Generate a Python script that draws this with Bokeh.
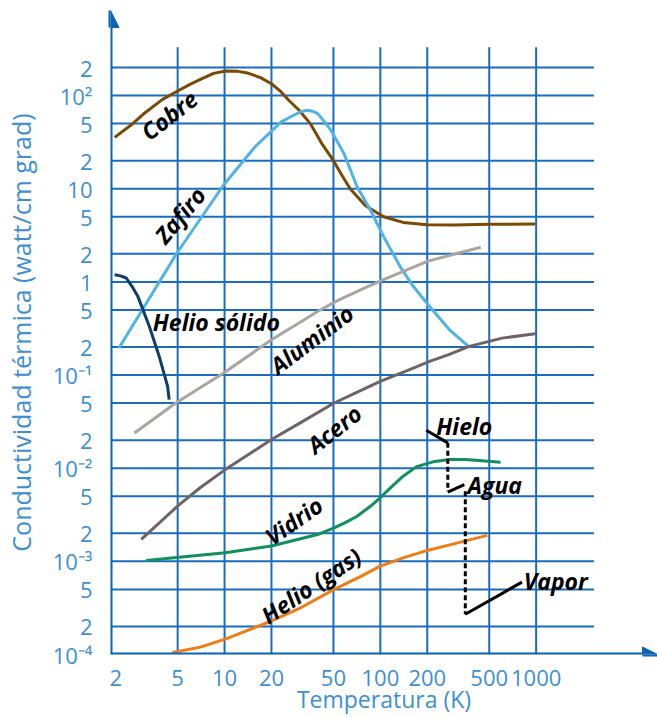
import math
from bokeh.plotting import figure
from bokeh.models import Range1d, FixedTicker, Arrow, NormalHead
from bokeh.core.properties import value
from bokeh.embed import file_html
from bokeh.resources import INLINE

FONT = "Open Sans"
TXT_BLUE = "#3d8fd3"
GRID = "#1a6cbc"
AXIS = "#0b63b2"

# ---- axes ----
x_ticks = [2, 5, 10, 20, 50, 100, 200, 500, 1000]
x_tick_labels = ["2", "5", "10", "20", "50", "100", "200", "500", "1000"]
y_ticks = [1e-4, 2e-4, 5e-4, 1e-3, 2e-3, 5e-3, 1e-2, 2e-2, 5e-2, 0.1, 0.2, 0.5,
           1, 2, 5, 10, 20, 50, 100, 200]
y_tick_labels = ["10⁻⁴", "2", "5", "10⁻³", "2", "5", "10⁻²", "2", "5", "10⁻¹", "2", "5",
                 "1", "2", "5", "10", "2", "5", "10²", "2"]
grid_x = [5, 10, 20, 50, 100, 200, 500, 1000]
grid_y = [2e-4, 5e-4, 1e-3, 2e-3, 5e-3, 1e-2, 2e-2, 5e-2, 0.1, 0.2, 0.5,
          1, 2, 5, 10, 20, 50, 100, 200]

# ---- series (T in K, conductivity in W/cm·K) ----
cobre_T = [1.97, 2.5, 3, 4, 5, 6, 7, 8.5, 10.2, 12, 14, 17, 20, 23, 26, 30, 35.5, 42, 50,
           57, 64, 80, 105, 140, 200, 300, 500, 986]
cobre_k = [35.6, 48, 63, 91, 112, 132, 149, 173, 184, 183, 175, 156, 134, 110, 88, 70, 50, 30.7, 20,
           13.7, 10, 6.6, 5.0, 4.35, 4.1, 4.08, 4.15, 4.19]

zafiro_T = [2.1, 4.94, 9.86, 15.7, 23.1, 27, 31, 34, 36.5, 39.5, 43, 48.1, 58.4, 70.9, 86.3,
            105, 134, 163, 207, 278, 368]
zafiro_k = [0.195, 2.03, 10.96, 28.2, 52.3, 60, 67.5, 69.7, 68, 64.3, 54.5, 42.6, 23.9, 10.5, 5.91,
            3.06, 1.46, 0.891, 0.544, 0.306, 0.203]

helio_sol_T = [1.97, 2.15, 2.34, 2.55, 2.78, 3.29, 3.81, 4.31, 4.41]
helio_sol_k = [1.19, 1.16, 1.10, 0.89, 0.695, 0.332, 0.158, 0.0755, 0.0544]

aluminio_T = [2.64, 4.86, 9.87, 20, 32.5, 39.5, 53, 78.2, 102, 202, 441]
aluminio_k = [0.0239, 0.0501, 0.105, 0.239, 0.392, 0.481, 0.63, 0.85, 1.04, 1.67, 2.35]

acero_T = [2.92, 4.99, 7, 10.1, 14, 20, 30, 50.5, 70, 99.8, 150, 207, 280, 372, 605, 986]
acero_k = [0.00172, 0.00391, 0.0062, 0.00966, 0.01375, 0.0203, 0.0301, 0.0501, 0.0646, 0.0853,
           0.1125, 0.140, 0.168, 0.203, 0.249, 0.277]

vidrio_T = [3.14, 10.1, 20, 39.5, 50.5, 60, 70.9, 86.3, 99.8, 116, 140, 171, 218, 278, 350, 410, 591]
vidrio_k = [0.00102, 0.00124, 0.00146, 0.00194, 0.00229, 0.00262, 0.00305, 0.0039, 0.00481, 0.00615,
            0.0082, 0.0104, 0.0117, 0.0124, 0.0124, 0.0122, 0.0116]

helio_gas_T = [4.63, 7, 10.1, 20, 30, 50.5, 75, 99.8, 140, 200, 300, 486]
helio_gas_k = [1.05e-4, 1.2e-4, 1.46e-4, 2.29e-4, 3.1e-4, 5.0e-4, 6.9e-4, 8.89e-4, 1.09e-3, 1.31e-3, 1.55e-3, 1.90e-3]

hielo_T = [197, 271]
hielo_k = [0.0255, 0.0187]
fusion_T = [271, 271]
fusion_k = [0.0187, 0.00565]
agua_T = [271, 346]
agua_k = [0.00552, 0.00667]
ebull_T = [351, 351]
ebull_k = [0.00565, 2.70e-4]
vapor_T = [351, 811]
vapor_k = [2.70e-4, 5.98e-4]

# ---- frame ----
x_start, x_end = 1.853, 6012
y_start, y_end = 1e-4, 819
grid_x_end = 2350
grid_y_top = 330

p = figure(width=657, height=717, x_axis_type="log", y_axis_type="log",
           x_range=Range1d(x_start, x_end), y_range=Range1d(y_start, y_end),
           output_backend="svg", toolbar_location=None,
           min_border_left=104, min_border_right=0, min_border_top=10, min_border_bottom=62)
p.outline_line_color = None
p.xgrid.visible = False
p.ygrid.visible = False
p.background_fill_color = "white"

# grid
p.segment(x0=[x_start] * len(grid_y), y0=grid_y, x1=[grid_x_end] * len(grid_y), y1=grid_y,
          line_color=GRID, line_width=2)
p.segment(x0=grid_x, y0=[y_start] * len(grid_x), x1=grid_x, y1=[grid_y_top] * len(grid_x),
          line_color=GRID, line_width=2)

# axes
for ax, ticks, labels in ((p.xaxis[0], x_ticks, x_tick_labels), (p.yaxis[0], y_ticks, y_tick_labels)):
    ax.ticker = FixedTicker(ticks=ticks, minor_ticks=[])
    ax.major_label_overrides = dict(zip(ticks, labels))
    ax.axis_line_color = None
    ax.major_tick_line_color = None
    ax.minor_tick_line_color = None
    ax.major_label_text_font = FONT
    ax.major_label_text_font_size = "22px"
    ax.major_label_text_color = TXT_BLUE
    ax.axis_label_text_font = FONT
    ax.axis_label_text_font_style = "normal"
    ax.axis_label_text_color = TXT_BLUE

p.xaxis.axis_label = "Temperatura (K)"
p.xaxis.axis_label_text_font_size = "23px"
p.xaxis.major_label_standoff = 9
p.xaxis.axis_label_standoff = -6
p.yaxis.axis_label = "Conductividad térmica (watt/cm grad)"
p.yaxis.axis_label_text_font_size = "25px"
p.yaxis.major_label_standoff = 12
p.yaxis.axis_label_standoff = 12

p.add_layout(Arrow(end=NormalHead(size=17, fill_color=AXIS, line_color=AXIS, line_width=1),
                   x_start=x_start, y_start=y_start, x_end=x_start, y_end=y_end,
                   line_color=AXIS, line_width=4))
p.add_layout(Arrow(end=NormalHead(size=15, fill_color=AXIS, line_color=AXIS, line_width=1),
                   x_start=x_start, y_start=y_start, x_end=x_end, y_end=y_start,
                   line_color=AXIS, line_width=4))

# curves
p.line(cobre_T, cobre_k, line_color="#7b4a02", line_width=3)
p.line(zafiro_T, zafiro_k, line_color="#4fb3e6", line_width=3)
p.line(helio_sol_T, helio_sol_k, line_color="#0f3d6b", line_width=3)
p.line(aluminio_T, aluminio_k, line_color="#aaa59f", line_width=3)
p.line(acero_T, acero_k, line_color="#6f6368", line_width=3)
p.line(vidrio_T, vidrio_k, line_color="#10905b", line_width=3)
p.line(helio_gas_T, helio_gas_k, line_color="#f07d14", line_width=3)
for xs, ys in ((hielo_T, hielo_k), (agua_T, agua_k), (vapor_T, vapor_k)):
    p.line(xs, ys, line_color="black", line_width=3)
for xs, ys in ((fusion_T, fusion_k), (ebull_T, ebull_k)):
    p.line(xs, ys, line_color="black", line_width=3, line_dash="5 3")

# labels
rot_text = ["Cobre", "Zafiro", "Aluminio", "Acero", "Vidrio", "Helio (gas)"]
rot_x = [4.41, 5.16, 36.2, 50.5, 27.8, 35.9]
rot_y = [61.7, 5.23, 0.243, 0.0264, 0.00274, 5.52e-4]
rot_angle = [math.radians(a) for a in (38, 50, 37, 38, 35, 34)]
p.text(x=rot_x, y=rot_y, text=rot_text, angle=rot_angle,
       text_font=value(FONT), text_font_style="bold italic", text_font_size="23px",
       text_align="center", text_baseline="middle", text_color="black")

flat_text = ["Helio sólido", "Hielo", "Agua", "Vapor"]
flat_x = [3.46, 228.5, 363, 832]
flat_y = [0.3754, 0.0286, 0.00667, 6.14e-4]
p.text(x=flat_x, y=flat_y, text=flat_text,
       text_font=value(FONT), text_font_style="bold italic", text_font_size="23px",
       text_align="left", text_baseline="middle", text_color="black")

open("out.html", "w").write(file_html(p, INLINE))
